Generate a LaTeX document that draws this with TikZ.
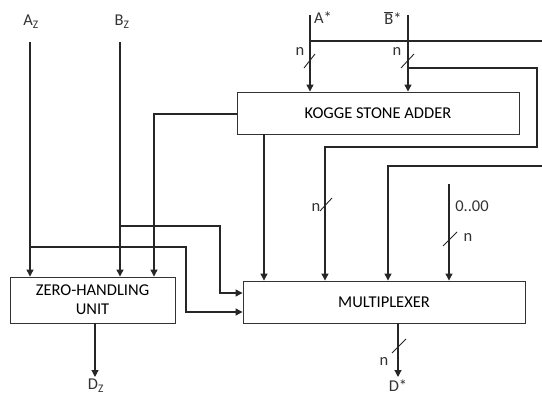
\documentclass[tikz,border=0pt]{standalone}
\usepackage{fontspec}
\setmainfont{Carlito}
\usetikzlibrary{arrows.meta}
\begin{document}
\begin{tikzpicture}[x=1pt,y=-1pt,
  wire/.style={line width=1.2pt,draw=black!85},
  arr/.style={wire,-{Triangle[length=7pt,width=7pt]}},
  blk/.style={draw=black!80,line width=0.9pt,rectangle,inner sep=0pt,align=center,font=\fontsize{16.5}{19}\selectfont},
  lbl/.style={inner sep=0pt,font=\fontsize{16.5}{19}\selectfont,text=black!80},
  slash/.style={line width=0.9pt,draw=black!85}]
\useasboundingbox (0,0) rectangle (542,396);
% blocks
\node[blk,minimum width=282pt,minimum height=42pt] (ksa) at (378,113) {KOGGE STONE ADDER};
\node[blk,minimum width=282pt,minimum height=42pt] (mux) at (384,302) {MULTIPLEXER};
\node[blk,minimum width=165pt,minimum height=46pt] (zhu) at (92.5,300) {ZERO-HANDLING\\UNIT};
% labels
\node[lbl] (az) at (31,22) {A\textsubscript{Z}};
\node[lbl] (bz) at (122,22) {B\textsubscript{Z}};
\node[lbl] (as) at (323,18) {A*};
\node[lbl] (bs) at (393,18) {$\overline{\mbox{B}}$*};
\node[lbl] (zeros) at (472,206) {0..00};
\node[lbl] (dz) at (96,386) {D\textsubscript{Z}};
\node[lbl] (ds) at (398,386) {D*};
\node[lbl] (n1) at (300,52) {n};
\node[lbl] (n2) at (397,52) {n};
\node[lbl] (n3) at (316,207) {n};
\node[lbl] (n4) at (468,238) {n};
\node[lbl] (n5) at (384,361) {n};
% coordinates
\coordinate (aztop) at (30,42);
\coordinate (bztop) at (120,42);
\coordinate (azb) at (30,247);
\coordinate (azk) at (186,312);
\coordinate (bzb) at (120,226);
\coordinate (bzk) at (220,293);
\coordinate (atop) at (310,15);
\coordinate (ah) at (310,41);
\coordinate (ahr) at (542,41);
\coordinate (btop) at (408,15);
\coordinate (bb) at (408,68);
\coordinate (br1) at (537,147);
\coordinate (bm) at (325,147);
\coordinate (r2) at (542,166);
\coordinate (r2c) at (388,166);
\coordinate (z0) at (449,184);
\coordinate (kl) at (154,114);
\coordinate (kd) at (264,134);
\coordinate (mo) at (398,377);
\coordinate (zo) at (95,377);
% wires
\draw[arr] (aztop) -- (aztop |- zhu.north);
\draw[arr] (bztop) -- (bztop |- zhu.north);
\draw[arr] (azb) -| (azk) -- (azk -| mux.west);
\draw[arr] (bzb) -| (bzk) -- (bzk -| mux.west);
\draw[arr] (atop) -- (atop |- ksa.north);
\draw[wire] (ah) -- (ahr);
\draw[arr] (btop) -- (btop |- ksa.north);
\draw[arr] (bb) -| (br1) -- (bm) -- (bm |- mux.north);
\draw[arr] (r2) -- (r2c) -- (r2c |- mux.north);
\draw[arr] (z0) -- (z0 |- mux.north);
\draw[arr] (ksa.west |- kl) -- (kl) -- (kl |- zhu.north);
\draw[arr] (kd |- ksa.south) -- (kd |- mux.north);
\draw[arr] (mo |- mux.south) -- (mo);
\draw[arr] (zo |- zhu.south) -- (zo);
% bus slashes
\draw[slash] (304,68) -- (315,54);
\draw[slash] (401,68) -- (414,54);
\draw[slash] (320,211) -- (332,198);
\draw[slash] (443,246) -- (457,232);
\draw[slash] (392,353) -- (406,339);
\end{tikzpicture}
\end{document}
